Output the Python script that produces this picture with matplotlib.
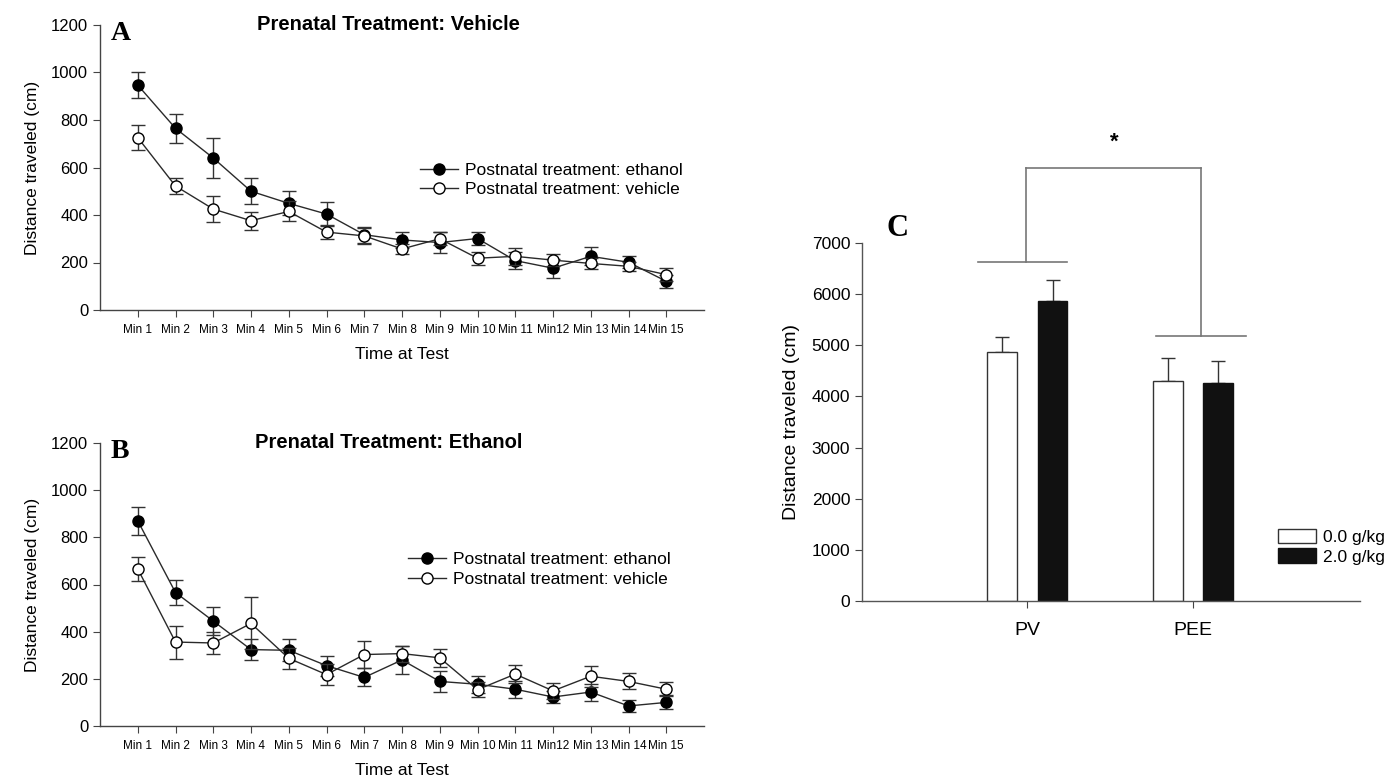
import matplotlib
matplotlib.use("Agg")
import matplotlib.pyplot as plt
import numpy as np
from matplotlib.lines import Line2D
from matplotlib.patches import Patch

plt.rcParams['font.family'] = ['Liberation Sans', 'DejaVu Sans']

minutes = ["Min 1", "Min 2", "Min 3", "Min 4", "Min 5", "Min 6", "Min 7", "Min 8",
           "Min 9", "Min 10", "Min 11", "Min12", "Min 13", "Min 14", "Min 15"]
series_labels = ["Postnatal treatment: ethanol", "Postnatal treatment: vehicle"]

# Panel A: prenatal vehicle
a_eth = [947, 765, 640, 500, 449, 404, 317, 295, 284, 301, 208, 176, 226, 201, 121]
a_eth_err = [55, 60, 85, 55, 50, 50, 33, 35, 45, 28, 35, 40, 38, 25, 28]
a_veh = [726, 522, 425, 376, 415, 328, 312, 257, 300, 218, 226, 210, 196, 184, 149]
a_veh_err = [52, 32, 56, 38, 42, 28, 33, 20, 28, 28, 35, 26, 24, 20, 26]

# Panel B: prenatal ethanol
b_eth = [870, 566, 445, 324, 321, 256, 206, 280, 189, 177, 156, 123, 144, 85, 100]
b_eth_err = [58, 55, 60, 45, 46, 42, 38, 58, 44, 35, 36, 27, 36, 24, 30]
b_veh = [666, 356, 352, 435, 287, 218, 303, 307, 289, 154, 220, 149, 211, 189, 156]
b_veh_err = [50, 70, 48, 110, 44, 45, 59, 34, 38, 31, 38, 33, 45, 34, 29]

# Panel C: total distance
groups = ["PV", "PEE"]
dose_labels = ["0.0 g/kg", "2.0 g/kg"]
c_dose0 = [4866, 4306]
c_dose0_err = [290, 440]
c_dose2 = [5860, 4263]
c_dose2_err = [420, 430]
# significance brackets
group_bracket_y = [6620, 5190]
top_bracket_y = 8470
star_label = "*"

W, H = 14, 7.78
fig = plt.figure(figsize=(W, H), dpi=100)

line_col = "#2a2a2a"
axis_col = "#444444"


def line_panel(rect, eth, eth_err, veh, veh_err, title, letter, leg_xy):
    ax = fig.add_axes(rect)
    x = np.arange(1, len(minutes) + 1)
    ax.errorbar(x, eth, yerr=eth_err, color=line_col, lw=1.0, marker='o', ms=8,
                mfc='black', mec='black', ecolor='#333333', elinewidth=1.0,
                capsize=5, capthick=1.0, zorder=3)
    ax.errorbar(x, veh, yerr=veh_err, color=line_col, lw=1.0, marker='o', ms=8,
                mfc='white', mec='black', mew=1.0, ecolor='#333333', elinewidth=1.0,
                capsize=5, capthick=1.0, zorder=4)
    ax.set_xlim(0, 16)
    ax.set_ylim(0, 1200)
    ax.set_yticks(np.arange(0, 1201, 200))
    ax.set_xticks(x)
    ax.set_xticklabels(minutes, fontsize=8.5)
    ax.tick_params(axis='y', labelsize=12, direction='out', length=5, color=axis_col)
    ax.tick_params(axis='x', direction='out', length=5, color=axis_col, pad=5)
    for s in ['top', 'right']:
        ax.spines[s].set_visible(False)
    for s in ['left', 'bottom']:
        ax.spines[s].set_color(axis_col)
        ax.spines[s].set_linewidth(1.0)
    ax.set_xlabel("Time at Test", fontsize=12.5, labelpad=8)
    ax.set_ylabel("Distance traveled (cm)", fontsize=12.5, labelpad=8)
    ax.text(0.478, 1.0, title, transform=ax.transAxes, ha='center', va='center',
            fontsize=14.5, fontweight='bold')
    ax.text(0.018, 0.97, letter, transform=ax.transAxes, ha='left', va='center',
            fontsize=20, fontweight='bold', family='Liberation Serif')
    handles = [Line2D([], [], color=line_col, lw=1.0, marker='o', ms=8, mfc='black', mec='black'),
               Line2D([], [], color=line_col, lw=1.0, marker='o', ms=8, mfc='white', mec='black')]
    ax.legend(handles, series_labels, loc='center left', bbox_to_anchor=leg_xy, frameon=False,
              fontsize=12.5, handlelength=2.2, handletextpad=0.4,
              labelspacing=0.25, borderaxespad=0, borderpad=0)
    return ax


axA = line_panel([100 / 1400, 1 - 310 / 778, 604 / 1400, 285 / 778],
                 a_eth, a_eth_err, a_veh, a_veh_err,
                 "Prenatal Treatment: Vehicle", "A", (0.53, 0.456))
axB = line_panel([100 / 1400, 1 - 726 / 778, 604 / 1400, 283 / 778],
                 b_eth, b_eth_err, b_veh, b_veh_err,
                 "Prenatal Treatment: Ethanol", "B", (0.51, 0.553))

# Panel C
axC = fig.add_axes([862 / 1400, 1 - 601 / 778, 498 / 1400, 358 / 778])
xc = np.arange(len(groups))
bw = 0.18
off = 0.152
axC.bar(xc - off, c_dose0, width=bw, color='white', edgecolor='#333333', lw=1.0, zorder=2)
axC.bar(xc + off, c_dose2, width=bw, color='#111111', edgecolor='#111111', lw=1.0, zorder=2)
axC.errorbar(xc - off, c_dose0, yerr=[np.zeros(len(groups)), c_dose0_err], fmt='none',
             ecolor='#333333', elinewidth=1.0, capsize=5, capthick=1.0, zorder=1)
axC.errorbar(xc + off, c_dose2, yerr=[np.zeros(len(groups)), c_dose2_err], fmt='none',
             ecolor='#333333', elinewidth=1.0, capsize=5, capthick=1.0, zorder=1)
axC.set_xlim(-1.0, 2.01)
axC.set_ylim(0, 7000)
axC.set_yticks(np.arange(0, 7001, 1000))
axC.set_xticks(xc)
axC.set_xticklabels(groups, fontsize=14)
axC.tick_params(axis='y', labelsize=12.5, direction='out', length=5, color=axis_col)
axC.tick_params(axis='x', direction='out', length=5, color=axis_col, pad=10)
for s in ['top', 'right']:
    axC.spines[s].set_visible(False)
for s in ['left', 'bottom']:
    axC.spines[s].set_color('#555555')
    axC.spines[s].set_linewidth(1.0)
axC.set_ylabel("Distance traveled (cm)", fontsize=14, labelpad=8)
axC.text(0.05, 1.04, "C", transform=axC.transAxes, ha='left', va='center',
         fontsize=22, fontweight='bold', family='Liberation Serif')

br_col = '#777777'
bracket_ranges = [(xc[0] - 0.30, xc[0] + 0.24), (xc[1] - 0.22, xc[1] + 0.32)]
for (x0, x1), yb in zip(bracket_ranges, group_bracket_y):
    axC.plot([x0, x1], [yb, yb], color=br_col, lw=1.2, clip_on=False)
left_v = xc[0] - 0.006
right_v = xc[1] + 0.05
axC.plot([left_v, left_v], [group_bracket_y[0], top_bracket_y], color=br_col, lw=1.2, clip_on=False)
axC.plot([right_v, right_v], [group_bracket_y[1], top_bracket_y], color=br_col, lw=1.2, clip_on=False)
axC.plot([left_v, right_v], [top_bracket_y, top_bracket_y], color=br_col, lw=1.2, clip_on=False)
axC.text((left_v + right_v) / 2, top_bracket_y + 500, star_label, ha='center', va='center',
         fontsize=16, fontweight='bold')

handles = [Patch(facecolor='white', edgecolor='#333333', lw=1.0),
           Patch(facecolor='#111111', edgecolor='#111111')]
axC.legend(handles, dose_labels, loc='center left', bbox_to_anchor=(0.835, 0.152),
           frameon=False, fontsize=12.5, handlelength=2.2, handleheight=0.9,
           handletextpad=0.4, labelspacing=0.2, borderaxespad=0, borderpad=0)

fig.savefig("out.png", dpi=100, facecolor='white')
